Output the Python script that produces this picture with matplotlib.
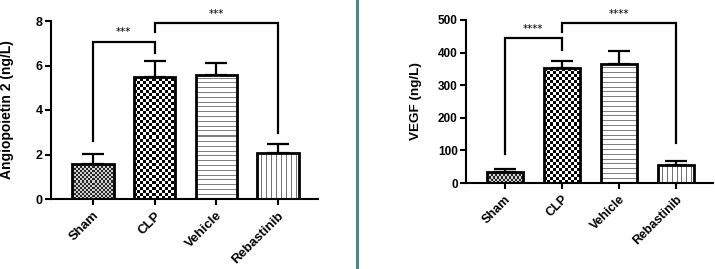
import numpy as np
import matplotlib
matplotlib.use("Agg")
import matplotlib.pyplot as plt
from matplotlib.lines import Line2D

# ---------------- data ----------------
groups = ["Sham", "CLP", "Vehicle", "Rebastinib"]

ang2_mean = [1.58, 5.50, 5.58, 2.08]
ang2_err = [0.44, 0.68, 0.52, 0.39]

vegf_mean = [35, 353, 364, 54]
vegf_err = [9, 22, 41, 13]

# brackets: (group i, group j, top, leg end at i, leg end at j, label)
ang2_brackets = [(0, 1, 7.07, 2.62, 6.55, "***"),
                 (1, 3, 7.90, 7.50, 2.95, "***")]
vegf_brackets = [(0, 1, 446, 88, 408, "****"),
                 (1, 3, 492, 462, 123, "****")]

patterns = ["fine", "checker", "hlines", "vlines"]

plt.rcParams['font.family'] = ['Liberation Sans', 'DejaVu Sans']

W, H = 715, 269
fig = plt.figure(figsize=(W / 100, H / 100), dpi=100)


def texture(kind, h, w):
    r, c = np.mgrid[0:h, 0:w]
    if kind == "fine":
        a = ((r // 2 + c // 2) % 2).astype(float)
        return np.where(a > 0, 0.15, 0.82)
    if kind == "checker":
        a = ((r // 3 + c // 3) % 2).astype(float)
        return np.where(a > 0, 0.0, 1.0)
    if kind == "hlines":
        a = (np.floor(r / 4.8) != np.floor((r + 1) / 4.8))
        return np.where(a, 0.5, 1.0)
    if kind == "vlines":
        a = (np.floor(c / 4.8) != np.floor((c + 1) / 4.8))
        return np.where(a, 0.45, 1.0)


def panel(rect, means, errs, ymax, yticks, ylabel, brackets, width, label_x,
          xfs, yfs, tfs):
    ax = fig.add_axes(rect)
    x = np.arange(len(groups))
    ax.set_xlim(-0.68, 3.65)
    ax.set_ylim(0, ymax)
    bars = ax.bar(x, means, width=width, facecolor='none', edgecolor='black',
                  linewidth=2.0, zorder=3)
    ax.errorbar(x, means, yerr=[np.zeros(len(errs)), errs], fmt='none',
                ecolor='black', elinewidth=1.6, capsize=8, capthick=1.6, zorder=2)
    # textures clipped to bars
    for b, kind in zip(bars, patterns):
        x0, y0 = b.get_x(), b.get_y()
        x1, y1 = x0 + b.get_width(), y0 + b.get_height()
        p0 = ax.transData.transform((x0, y0))
        p1 = ax.transData.transform((x1, y1))
        wpx = max(int(round(p1[0] - p0[0])), 1)
        hpx = max(int(round(p1[1] - p0[1])), 1)
        img = texture(kind, hpx, wpx)
        im = ax.imshow(img, cmap='gray', vmin=0, vmax=1, extent=(x0, x1, y0, y1),
                       origin='lower', interpolation='nearest', aspect='auto', zorder=2.5)
        im.set_clip_path(b)
    ax.set_xlim(-0.68, 3.65)
    ax.set_ylim(0, ymax)

    for s in ['top', 'right']:
        ax.spines[s].set_visible(False)
    for s in ['left', 'bottom']:
        ax.spines[s].set_linewidth(1.5)
    ax.set_yticks(yticks)
    ax.set_yticklabels([str(t) for t in yticks], fontsize=tfs, fontweight='bold')
    ax.set_xticks(x)
    ax.set_xticklabels(groups, rotation=45, ha='right', va='top',
                       rotation_mode='anchor', fontsize=xfs, fontweight='bold')
    ax.tick_params(axis='both', width=1.5, length=4, direction='out', pad=2)
    ax.tick_params(axis='x', pad=3.5)
    ax.set_ylabel(ylabel, fontsize=yfs, fontweight='bold')
    ax.yaxis.set_label_coords(label_x, 0.5)

    for i, j, top, li, lj, lab in brackets:
        ax.plot([i, i, j, j], [li, top, top, lj], color='black', lw=1.6,
                clip_on=False, zorder=4, solid_joinstyle='miter')
        ax.text((i + j) / 2, top + ymax * 0.025, lab, ha='center', va='bottom',
                fontsize=7.5, family='DejaVu Sans', clip_on=False)
    return ax


panel([51 / W, 1 - 199 / H, 267 / W, 178 / H], ang2_mean, ang2_err, 8,
      [0, 2, 4, 6, 8], "Angiopoietin 2 (ng/L)", ang2_brackets, 0.67, -0.14,
      9.5, 10, 9)
panel([466 / W, 1 - 183 / H, 247 / W, 163 / H], vegf_mean, vegf_err, 500,
      [0, 100, 200, 300, 400, 500], "VEGF (ng/L)", vegf_brackets, 0.64, -0.178,
      9, 9.7, 8.5)

fig.add_artist(Line2D([356.7 / W, 356.7 / W], [0, 1], transform=fig.transFigure,
                      color='#4a8987', linewidth=2.2))

fig.savefig("out.png", dpi=100)
